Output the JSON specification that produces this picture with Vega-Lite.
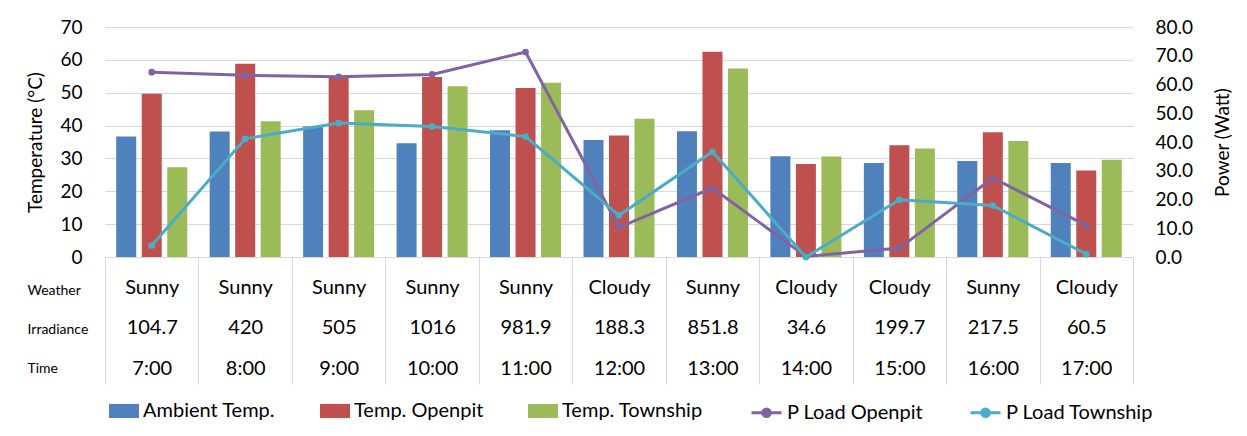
{
  "$schema": "https://vega.github.io/schema/vega-lite/v6.json",
  "width": 1028,
  "height": 230,
  "autosize": {"type": "none"},
  "padding": {"left": 105, "top": 27, "right": 114, "bottom": 179},
  "background": "white",
  "config": {
    "font": "Lato",
    "view": {"stroke": null},
    "axis": {"labelColor": "#000000", "titleColor": "#000000", "titleFontWeight": "normal", "labelFont": "Lato", "titleFont": "Lato"},
    "legend": {"labelColor": "#000000", "labelFont": "Lato"}
  },
  "datasets": {
    "bars": [
      {"slot": "Sunny|104.7|7:00", "series": "Ambient Temp.", "temp": 36.7},
      {"slot": "Sunny|420|8:00", "series": "Ambient Temp.", "temp": 38.2},
      {"slot": "Sunny|505|9:00", "series": "Ambient Temp.", "temp": 39.7},
      {"slot": "Sunny|1016|10:00", "series": "Ambient Temp.", "temp": 34.6},
      {"slot": "Sunny|981.9|11:00", "series": "Ambient Temp.", "temp": 38.6},
      {"slot": "Cloudy|188.3|12:00", "series": "Ambient Temp.", "temp": 35.6},
      {"slot": "Sunny|851.8|13:00", "series": "Ambient Temp.", "temp": 38.3},
      {"slot": "Cloudy|34.6|14:00", "series": "Ambient Temp.", "temp": 30.7},
      {"slot": "Cloudy|199.7|15:00", "series": "Ambient Temp.", "temp": 28.6},
      {"slot": "Sunny|217.5|16:00", "series": "Ambient Temp.", "temp": 29.2},
      {"slot": "Cloudy|60.5|17:00", "series": "Ambient Temp.", "temp": 28.6},
      {"slot": "Sunny|104.7|7:00", "series": "Temp. Openpit", "temp": 49.7},
      {"slot": "Sunny|420|8:00", "series": "Temp. Openpit", "temp": 58.8},
      {"slot": "Sunny|505|9:00", "series": "Temp. Openpit", "temp": 55.0},
      {"slot": "Sunny|1016|10:00", "series": "Temp. Openpit", "temp": 54.8},
      {"slot": "Sunny|981.9|11:00", "series": "Temp. Openpit", "temp": 51.4},
      {"slot": "Cloudy|188.3|12:00", "series": "Temp. Openpit", "temp": 37.0},
      {"slot": "Sunny|851.8|13:00", "series": "Temp. Openpit", "temp": 62.5},
      {"slot": "Cloudy|34.6|14:00", "series": "Temp. Openpit", "temp": 28.3},
      {"slot": "Cloudy|199.7|15:00", "series": "Temp. Openpit", "temp": 34.0},
      {"slot": "Sunny|217.5|16:00", "series": "Temp. Openpit", "temp": 38.0},
      {"slot": "Cloudy|60.5|17:00", "series": "Temp. Openpit", "temp": 26.3},
      {"slot": "Sunny|104.7|7:00", "series": "Temp. Township", "temp": 27.3},
      {"slot": "Sunny|420|8:00", "series": "Temp. Township", "temp": 41.3},
      {"slot": "Sunny|505|9:00", "series": "Temp. Township", "temp": 44.7},
      {"slot": "Sunny|1016|10:00", "series": "Temp. Township", "temp": 52.0},
      {"slot": "Sunny|981.9|11:00", "series": "Temp. Township", "temp": 53.0},
      {"slot": "Cloudy|188.3|12:00", "series": "Temp. Township", "temp": 42.1},
      {"slot": "Sunny|851.8|13:00", "series": "Temp. Township", "temp": 57.4},
      {"slot": "Cloudy|34.6|14:00", "series": "Temp. Township", "temp": 30.6},
      {"slot": "Cloudy|199.7|15:00", "series": "Temp. Township", "temp": 33.0},
      {"slot": "Sunny|217.5|16:00", "series": "Temp. Township", "temp": 35.3},
      {"slot": "Cloudy|60.5|17:00", "series": "Temp. Township", "temp": 29.6}
    ],
    "lines": [
      {"slot": "Sunny|104.7|7:00", "series": "P Load Openpit", "power": 64.3},
      {"slot": "Sunny|420|8:00", "series": "P Load Openpit", "power": 63.2},
      {"slot": "Sunny|505|9:00", "series": "P Load Openpit", "power": 62.7},
      {"slot": "Sunny|1016|10:00", "series": "P Load Openpit", "power": 63.5},
      {"slot": "Sunny|981.9|11:00", "series": "P Load Openpit", "power": 71.3},
      {"slot": "Cloudy|188.3|12:00", "series": "P Load Openpit", "power": 10.3},
      {"slot": "Sunny|851.8|13:00", "series": "P Load Openpit", "power": 24.0},
      {"slot": "Cloudy|34.6|14:00", "series": "P Load Openpit", "power": 0.2},
      {"slot": "Cloudy|199.7|15:00", "series": "P Load Openpit", "power": 3.1},
      {"slot": "Sunny|217.5|16:00", "series": "P Load Openpit", "power": 27.5},
      {"slot": "Cloudy|60.5|17:00", "series": "P Load Openpit", "power": 11.0},
      {"slot": "Sunny|104.7|7:00", "series": "P Load Township", "power": 4.0},
      {"slot": "Sunny|420|8:00", "series": "P Load Township", "power": 41.1},
      {"slot": "Sunny|505|9:00", "series": "P Load Township", "power": 46.6},
      {"slot": "Sunny|1016|10:00", "series": "P Load Township", "power": 45.4},
      {"slot": "Sunny|981.9|11:00", "series": "P Load Township", "power": 41.9},
      {"slot": "Cloudy|188.3|12:00", "series": "P Load Township", "power": 14.5},
      {"slot": "Sunny|851.8|13:00", "series": "P Load Township", "power": 36.6},
      {"slot": "Cloudy|34.6|14:00", "series": "P Load Township", "power": 0.0},
      {"slot": "Cloudy|199.7|15:00", "series": "P Load Township", "power": 19.9},
      {"slot": "Sunny|217.5|16:00", "series": "P Load Township", "power": 17.9},
      {"slot": "Cloudy|60.5|17:00", "series": "P Load Township", "power": 1.0}
    ]
  },
  "encoding": {
    "x": {
      "field": "slot",
      "type": "nominal",
      "scale": {
        "domain": ["Sunny|104.7|7:00", "Sunny|420|8:00", "Sunny|505|9:00", "Sunny|1016|10:00", "Sunny|981.9|11:00", "Cloudy|188.3|12:00", "Sunny|851.8|13:00", "Cloudy|34.6|14:00", "Cloudy|199.7|15:00", "Sunny|217.5|16:00", "Cloudy|60.5|17:00"],
        "paddingInner": 0,
        "paddingOuter": 0
      },
      "axis": {
        "title": ["Weather", "Irradiance", "Time"],
        "titleAngle": 0,
        "titleAlign": "left",
        "titleBaseline": "top",
        "titleX": -78,
        "titleY": 26,
        "titleFontSize": 14,
        "titleLineHeight": 39,
        "labelExpr": "datum.value ? split(datum.value, '|') : ''",
        "labelAngle": 0,
        "labelFontSize": 20,
        "labelLineHeight": 40.5,
        "labelPadding": -107,
        "tickBand": "extent",
        "tickSize": 127,
        "tickColor": "#d9d9d9",
        "domainColor": "#d9d9d9",
        "grid": false
      }
    }
  },
  "layer": [
    {
      "data": {"name": "bars"},
      "mark": {"type": "bar"},
      "encoding": {
        "xOffset": {
          "field": "series",
          "type": "nominal",
          "scale": {"domain": ["Ambient Temp.", "Temp. Openpit", "Temp. Township"], "paddingInner": 0.216, "paddingOuter": 0.44}
        },
        "y": {
          "field": "temp",
          "type": "quantitative",
          "scale": {"domain": [0, 70], "nice": false},
          "axis": {
            "orient": "left",
            "values": [0, 10, 20, 30, 40, 50, 60, 70],
            "title": "Temperature (°C)",
            "titleFontSize": 19,
            "titlePadding": 14,
            "labelFontSize": 19,
            "labelPadding": 23,
            "ticks": false,
            "domain": false,
            "grid": true,
            "gridColor": "#d9d9d9"
          }
        },
        "fill": {
          "field": "series",
          "type": "nominal",
          "scale": {"domain": ["Ambient Temp.", "Temp. Openpit", "Temp. Township"], "range": ["#4F81BD", "#C0504D", "#9BBB59"]},
          "legend": {
            "title": null,
            "orient": "none",
            "direction": "horizontal",
            "legendX": 4,
            "legendY": 369,
            "symbolType": "M-1,-0.47H1V0.47H-1Z",
            "symbolSize": 900,
            "symbolStrokeWidth": 0,
            "labelFontSize": 20,
            "labelOffset": 4,
            "columnPadding": 44
          }
        }
      }
    },
    {
      "data": {"name": "lines"},
      "encoding": {
        "y": {
          "field": "power",
          "type": "quantitative",
          "scale": {"domain": [0, 80], "nice": false},
          "axis": {
            "orient": "right",
            "values": [0, 10, 20, 30, 40, 50, 60, 70, 80],
            "format": ".1f",
            "title": "Power (Watt)",
            "titleAngle": 270,
            "titleFontSize": 19,
            "titlePadding": 40,
            "labelFontSize": 19,
            "labelPadding": 22,
            "ticks": false,
            "domain": false,
            "grid": false
          }
        },
        "color": {
          "field": "series",
          "type": "nominal",
          "scale": {"domain": ["P Load Openpit", "P Load Township"], "range": ["#8064A2", "#4BACC6"]},
          "legend": {
            "title": null,
            "orient": "none",
            "direction": "horizontal",
            "legendX": 645,
            "legendY": 369,
            "symbolType": "M-1,0H1M0.25,0A0.25,0.25 0 1,1 -0.25,0A0.25,0.25 0 1,1 0.25,0Z",
            "symbolSize": 900,
            "symbolStrokeWidth": 3,
            "labelFontSize": 20,
            "labelOffset": 4,
            "columnPadding": 40
          }
        }
      },
      "layer": [
        {"mark": {"type": "point", "filled": true, "size": 45, "opacity": 1}},
        {"mark": {"type": "line", "strokeWidth": 3}}
      ]
    }
  ],
  "resolve": {"scale": {"y": "independent"}}
}
